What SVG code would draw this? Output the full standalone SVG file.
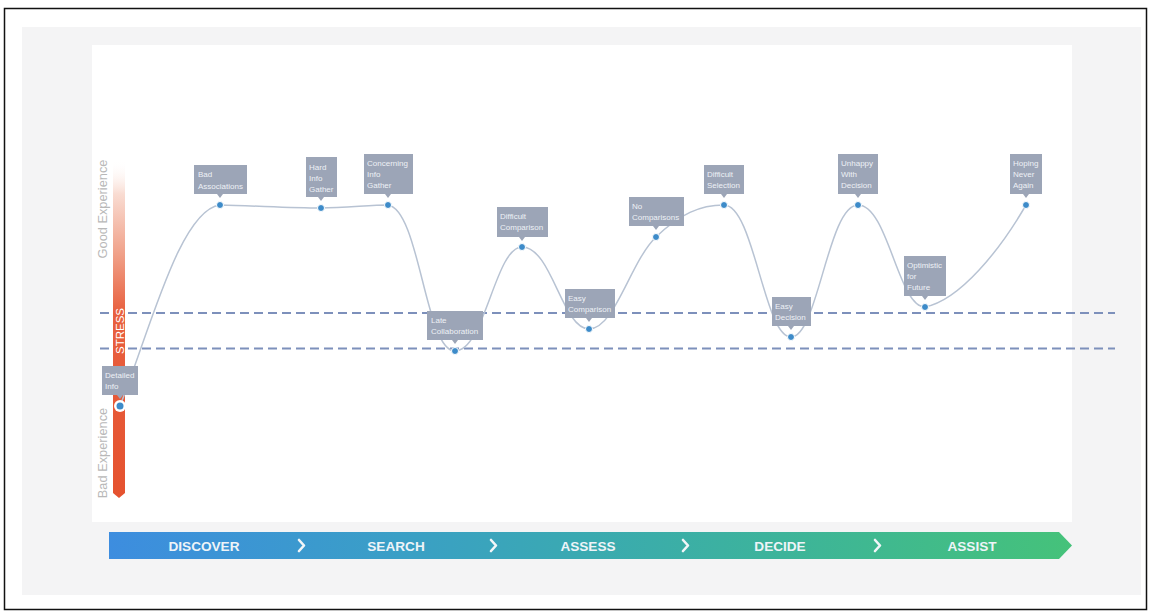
<svg xmlns="http://www.w3.org/2000/svg" width="1151" height="613" viewBox="0 0 1151 613">
<style>
.lbl{font-family:"Liberation Sans",Arial,sans-serif;font-size:8px;fill:#eef1f6}
.box{fill:#9ca5b7}
.dot{fill:#3d8bc9;stroke:#ffffff;stroke-width:1}
.axis{font-family:"Liberation Sans",Arial,sans-serif;font-size:12.8px;fill:#b8b8b8}
.phase{font-family:"Liberation Sans",Arial,sans-serif;font-size:13.6px;font-weight:bold;fill:#eef4f8;text-anchor:middle}
.chev{fill:none;stroke:#f2f6f8;stroke-width:2.6;stroke-linecap:round;stroke-linejoin:round}
.dash{stroke:#7d90bb;stroke-width:2;stroke-dasharray:9 5;fill:none}
</style>
<defs>
<linearGradient id="stressG" gradientUnits="userSpaceOnUse" x1="0" y1="160" x2="0" y2="498">
<stop offset="0" stop-color="#ffffff" stop-opacity="0"/>
<stop offset="0.1" stop-color="#f9dcd2"/>
<stop offset="0.28" stop-color="#f0a088"/>
<stop offset="0.45" stop-color="#e8603f"/>
<stop offset="1" stop-color="#e5522f"/>
</linearGradient>
<linearGradient id="barG" gradientUnits="userSpaceOnUse" x1="109" y1="0" x2="1072" y2="0">
<stop offset="0" stop-color="#3d8ddf"/>
<stop offset="0.3" stop-color="#3a9fc6"/>
<stop offset="0.5" stop-color="#3aaab0"/>
<stop offset="0.7" stop-color="#3db49a"/>
<stop offset="1" stop-color="#45c27a"/>
</linearGradient>
</defs>
<rect x="0" y="0" width="1151" height="613" fill="#ffffff"/>
<rect x="4.5" y="8.5" width="1142" height="601" fill="#ffffff" stroke="#111111" stroke-width="1.5"/>
<rect x="22" y="27" width="1119" height="568" fill="#f4f4f5"/>
<rect x="92" y="45" width="980" height="477" fill="#ffffff"/>

<g id="stress-band">
<line class="dash" x1="100" y1="313" x2="1115" y2="313"/>
<line class="dash" x1="100" y1="348.5" x2="1115" y2="348.5"/>
</g>

<g id="stress-axis">
<path d="M113,160 H125 V493 L119,498 L113,493 Z" fill="url(#stressG)"/>
<text class="axis" text-anchor="middle" transform="translate(107,209) rotate(-90)">Good Experience</text>
<text class="axis" text-anchor="middle" transform="translate(107,453) rotate(-90)">Bad Experience</text>
<text font-family="Liberation Sans,Arial,sans-serif" font-size="11.5" fill="#ffffff" text-anchor="middle" transform="translate(123.5,331) rotate(-90)">STRESS</text>
</g>

<g id="connectors">
<path d="M120,406 C150,330 180,210 220,205 C260,206 290,208 321,208 C345,208 370,205 388,205 C420,210 425,351 455,351 C485,351 495,247 522,247 C552,247 562,329 589,329 C615,329 630,262 656,237 C680,214 700,205 724,205 C754,205 764,337 791,337 C818,337 828,205 858,205 C888,205 898,307 925,307 C960,300 1000,250 1026,205" fill="none" stroke="#b8c3d3" stroke-width="1.5"/>
</g>

<g id="n-detailed-info">
<rect class="box" x="102" y="366" width="36" height="29"/>
<polygon class="box" points="117,395 123,395 120,399"/>
<text class="lbl" x="105" y="378">Detailed</text>
<text class="lbl" x="105" y="389">Info</text>
<circle cx="120" cy="406" r="6" fill="#ffffff"/>
<circle cx="120" cy="406" r="3.5" fill="#3d8bc9"/>
</g>
<g id="n-bad-associations">
<rect class="box" x="194" y="165" width="53" height="29"/>
<polygon class="box" points="217,194 223,194 220,198"/>
<text class="lbl" x="198" y="177">Bad</text>
<text class="lbl" x="198" y="189">Associations</text>
<circle class="dot" cx="220" cy="205" r="3.5"/>
</g>
<g id="n-hard-info-gather">
<rect class="box" x="306" y="157" width="31" height="40"/>
<polygon class="box" points="318,197 324,197 321,201"/>
<text class="lbl" x="309" y="170">Hard</text>
<text class="lbl" x="309" y="181">Info</text>
<text class="lbl" x="309" y="192">Gather</text>
<circle class="dot" cx="321" cy="208" r="3.5"/>
</g>
<g id="n-concerning-info-gather">
<rect class="box" x="364" y="154" width="49" height="40"/>
<polygon class="box" points="385,194 391,194 388,198"/>
<text class="lbl" x="367" y="166">Concerning</text>
<text class="lbl" x="367" y="177">Info</text>
<text class="lbl" x="367" y="188">Gather</text>
<circle class="dot" cx="388" cy="205" r="3.5"/>
</g>
<g id="n-late-collaboration">
<rect class="box" x="427" y="311" width="56" height="29"/>
<polygon class="box" points="452,340 458,340 455,344"/>
<text class="lbl" x="431" y="323">Late</text>
<text class="lbl" x="431" y="334">Collaboration</text>
<circle class="dot" cx="455" cy="351" r="3.5"/>
</g>
<g id="n-difficult-comparison">
<rect class="box" x="497" y="207" width="51" height="30"/>
<polygon class="box" points="519,237 525,237 522,241"/>
<text class="lbl" x="500" y="219">Difficult</text>
<text class="lbl" x="500" y="230">Comparison</text>
<circle class="dot" cx="522" cy="247" r="3.5"/>
</g>
<g id="n-easy-comparison">
<rect class="box" x="565" y="289" width="50" height="29"/>
<polygon class="box" points="586,318 592,318 589,322"/>
<text class="lbl" x="568" y="301">Easy</text>
<text class="lbl" x="568" y="312">Comparison</text>
<circle class="dot" cx="589" cy="329" r="3.5"/>
</g>
<g id="n-no-comparisons">
<rect class="box" x="629" y="197" width="55" height="29"/>
<polygon class="box" points="653,226 659,226 656,230"/>
<text class="lbl" x="632" y="209">No</text>
<text class="lbl" x="632" y="220">Comparisons</text>
<circle class="dot" cx="656" cy="237" r="3.5"/>
</g>
<g id="n-difficult-selection">
<rect class="box" x="704" y="165" width="40" height="29"/>
<polygon class="box" points="721,194 727,194 724,198"/>
<text class="lbl" x="707" y="177">Difficult</text>
<text class="lbl" x="707" y="188">Selection</text>
<circle class="dot" cx="724" cy="205" r="3.5"/>
</g>
<g id="n-easy-decision">
<rect class="box" x="772" y="297" width="39" height="29"/>
<polygon class="box" points="788,326 794,326 791,330"/>
<text class="lbl" x="775" y="309">Easy</text>
<text class="lbl" x="775" y="320">Decision</text>
<circle class="dot" cx="791" cy="337" r="3.5"/>
</g>
<g id="n-unhappy-with-decision">
<rect class="box" x="838" y="154" width="40" height="40"/>
<polygon class="box" points="855,194 861,194 858,198"/>
<text class="lbl" x="841" y="166">Unhappy</text>
<text class="lbl" x="841" y="177">With</text>
<text class="lbl" x="841" y="188">Decision</text>
<circle class="dot" cx="858" cy="205" r="3.5"/>
</g>
<g id="n-optimistic-for-future">
<rect class="box" x="904" y="256" width="42" height="40"/>
<polygon class="box" points="922,296 928,296 925,300"/>
<text class="lbl" x="907" y="268">Optimistic</text>
<text class="lbl" x="907" y="279">for</text>
<text class="lbl" x="907" y="290">Future</text>
<circle class="dot" cx="925" cy="307" r="3.5"/>
</g>
<g id="n-hoping-never-again">
<rect class="box" x="1010" y="154" width="32" height="40"/>
<polygon class="box" points="1023,194 1029,194 1026,198"/>
<text class="lbl" x="1013" y="166">Hoping</text>
<text class="lbl" x="1013" y="177">Never</text>
<text class="lbl" x="1013" y="188">Again</text>
<circle class="dot" cx="1026" cy="205" r="3.5"/>
</g>

<g id="phase-bar">
<path d="M109,532 H1059 L1072,545.5 L1059,559 H109 Z" fill="url(#barG)"/>
<text class="phase" x="204" y="551">DISCOVER</text>
<polyline class="chev" points="299,540 304,545.5 299,551"/>
<text class="phase" x="396" y="551">SEARCH</text>
<polyline class="chev" points="491,540 496,545.5 491,551"/>
<text class="phase" x="588" y="551">ASSESS</text>
<polyline class="chev" points="683,540 688,545.5 683,551"/>
<text class="phase" x="780" y="551">DECIDE</text>
<polyline class="chev" points="875,540 880,545.5 875,551"/>
<text class="phase" x="972" y="551">ASSIST</text>
</g>
</svg>
